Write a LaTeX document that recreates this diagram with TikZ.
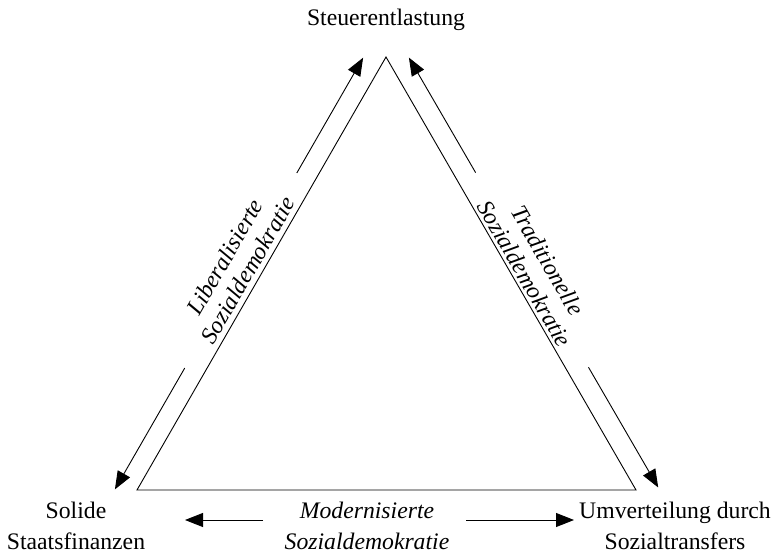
\documentclass[tikz,border=0pt]{standalone}
\usepackage{fontspec}
\setmainfont{Liberation Serif}
\usetikzlibrary{arrows.meta}
\begin{document}
\begin{tikzpicture}[x=1pt,y=-1pt,
  side/.style={line width=0.9pt,black},
  arr/.style={line width=0.9pt,-{Triangle[length=18pt,width=14pt]}},
  lbl/.style={inner sep=0pt,outer sep=0pt,font={\fontsize{23.7}{31}\selectfont}},
  dlbl/.style={inner sep=0pt,outer sep=0pt,align=center,font={\fontsize{23.7}{26.5}\selectfont\itshape}}]
\useasboundingbox (0,0) rectangle (773,553);
% triangle corners
\coordinate (A) at (386,57);
\coordinate (B) at (137,490);
\coordinate (C) at (636,490);
\draw[side] (A) -- (B) -- (C) -- cycle;
% left side arrows
\coordinate (L1) at (296.8,173.0);
\coordinate (L1t) at (363.1,57.7);
\coordinate (L2) at (184.7,368.1);
\coordinate (L2t) at (114.9,489.4);
\draw[arr] (L1) -- (L1t);
\draw[arr] (L2) -- (L2t);
% right side arrows
\coordinate (R1) at (475.6,172.6);
\coordinate (R1t) at (408.9,57.6);
\coordinate (R2) at (588.5,367.3);
\coordinate (R2t) at (658.2,487.5);
\draw[arr] (R1) -- (R1t);
\draw[arr] (R2) -- (R2t);
% bottom arrows
\coordinate (M1) at (263,520);
\coordinate (M1t) at (185,520);
\coordinate (M2) at (466,520);
\coordinate (M2t) at (574,520);
\draw[arr] (M1) -- (M1t);
\draw[arr] (M2) -- (M2t);
% texts
\node[lbl,anchor=base] (top) at (386,26) {Steuerentlastung};
\node[lbl,align=center] (sol) at (76,525.5) {Solide\\Staatsfinanzen};
\node[lbl,align=center] (umv) at (675,525.5) {Umverteilung durch\\Sozialtransfers};
\node[lbl,align=center,font={\fontsize{23.7}{31}\selectfont\itshape}] (mod) at (367,525.5) {Modernisierte\\Sozialdemokratie};
\node[dlbl,rotate=60.1] (lib) at (236.5,263.5) {Liberalisierte\\Sozialdemokratie};
\node[dlbl,rotate=-59.9] (tra) at (536.3,267.0) {Traditionelle\\Sozialdemokratie};
\end{tikzpicture}
\end{document}
